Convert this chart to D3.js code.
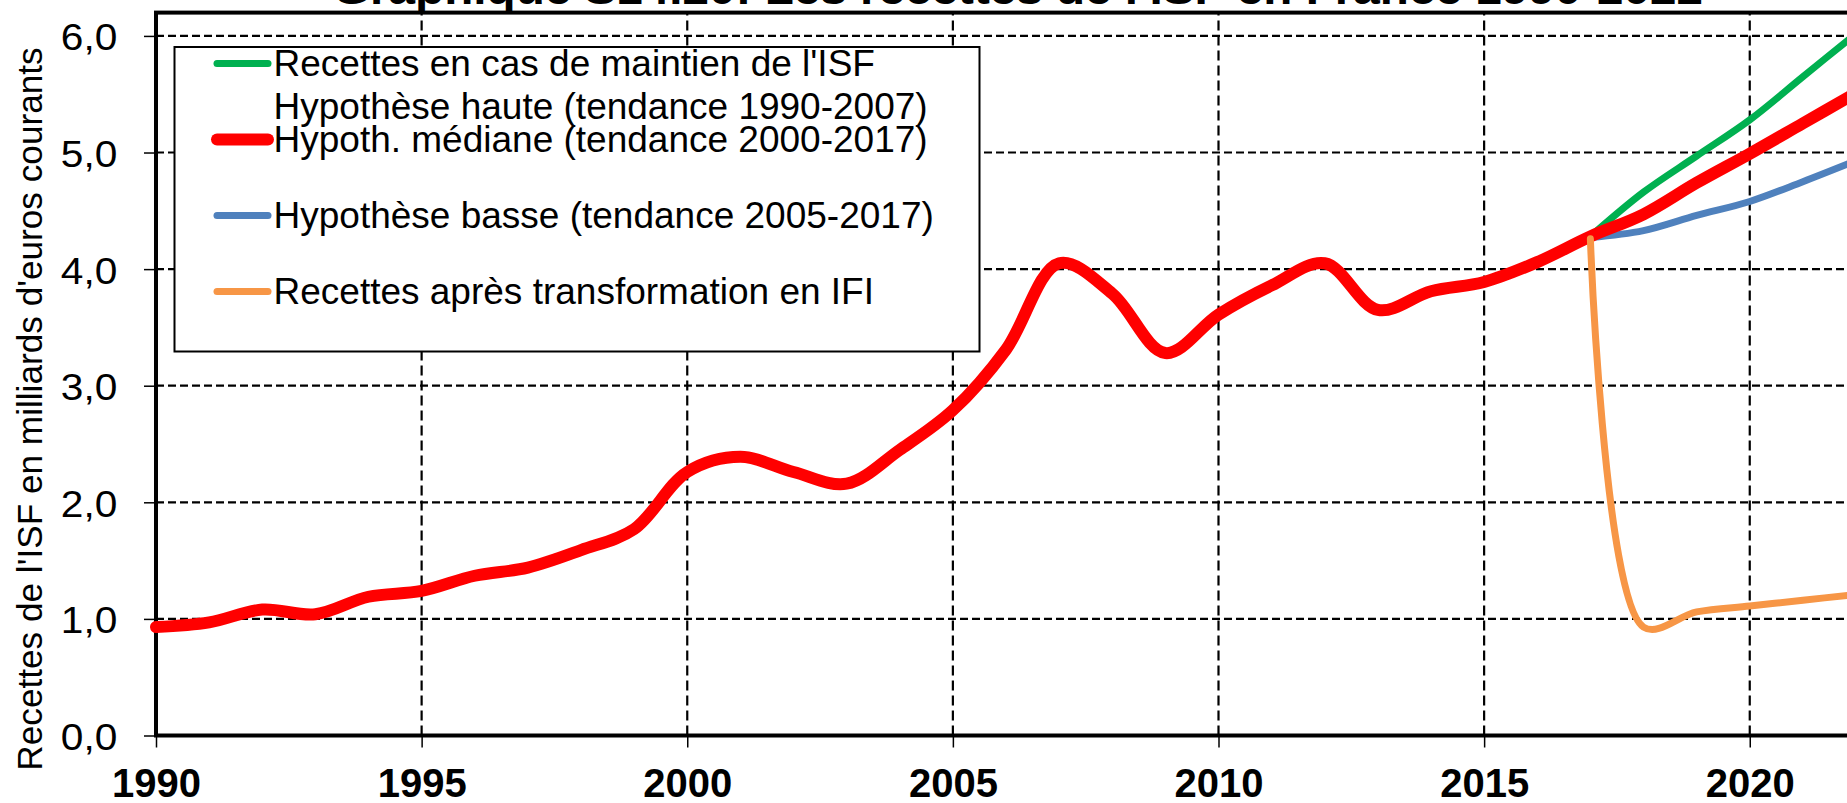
<!DOCTYPE html>
<html>
<head>
<meta charset="utf-8">
<script src="https://cdn.jsdelivr.net/npm/d3@7"></script>
<style>
  html, body { margin: 0; padding: 0; background: #fff; overflow: hidden; }
  svg { display: block; font-family: "Liberation Sans", Arial, sans-serif; }
</style>
</head>
<body>
<svg id="chart" width="1847" height="803"></svg>
<script>
// Data
var years = [1990, 1991, 1992, 1993, 1994, 1995, 1996, 1997, 1998, 1999,
             2000, 2001, 2002, 2003, 2004, 2005, 2006, 2007, 2008, 2009,
             2010, 2011, 2012, 2013, 2014, 2015, 2016, 2017, 2018, 2019,
             2020, 2021, 2022];
var medianValues = [0.93, 0.97, 1.08, 1.04, 1.19, 1.24, 1.37, 1.44, 1.59, 1.77,
                    2.26, 2.39, 2.26, 2.16, 2.45, 2.79, 3.31, 4.05, 3.79, 3.28,
                    3.61, 3.86, 4.05, 3.65, 3.81, 3.89, 4.06, 4.28, 4.47, 4.74,
                    4.99, 5.25, 5.51];
var projYears = [2017, 2018, 2019, 2020, 2021, 2022];
var highValues = [4.28, 4.66, 4.97, 5.28, 5.65, 6.02];
var lowValues  = [4.27, 4.33, 4.46, 4.58, 4.75, 4.93];
var ifiValues  = [4.26, 0.93, 1.06, 1.11, 1.16, 1.21];

var xTicks = [1990, 1995, 2000, 2005, 2010, 2015, 2020];
var yTicks = [0, 1, 2, 3, 4, 5, 6];

var legendItems = [
  {lines: ["Recettes en cas de maintien de l'ISF", "Hypothèse haute (tendance 1990-2007)"], color: "#00B050", width: 7},
  {lines: ["Hypoth. médiane (tendance 2000-2017)"], color: "#FF0000", width: 12},
  {lines: ["Hypothèse basse (tendance 2005-2017)"], color: "#4F81BD", width: 7},
  {lines: ["Recettes après transformation en IFI"], color: "#F79646", width: 7}
];

var title = "Graphique S14.20: Les recettes de l'ISF en France 1990-2022";
var yTitle = "Recettes de l'ISF en milliards d'euros courants";

var svg = d3.select("#chart");

// Scales
var x = d3.scaleLinear().domain([1990, 2022]).range([156, 1856]);
var y = d3.scaleLinear().domain([0, 6.2]).range([735.5, 12.6]);

var frFormat = d3.formatLocale({decimal: ",", thousands: " ", grouping: [3], currency: ["", " €"]}).format(".1f");

// Grid lines
svg.append("g")
  .selectAll("line")
  .data(yTicks)
  .enter().append("line")
    .attr("x1", x(1990)).attr("x2", x(2022))
    .attr("y1", function(d) { return y(d); })
    .attr("y2", function(d) { return y(d); })
    .attr("stroke", "#000")
    .attr("stroke-width", 2.2)
    .attr("stroke-dasharray", "8,4");

svg.append("g")
  .selectAll("line")
  .data(xTicks.slice(1))
  .enter().append("line")
    .attr("x1", function(d) { return x(d); })
    .attr("x2", function(d) { return x(d); })
    .attr("y1", y(0)).attr("y2", y(6.2))
    .attr("stroke", "#000")
    .attr("stroke-width", 2.2)
    .attr("stroke-dasharray", "10,5");

// Axes
var xAxis = svg.append("g")
  .attr("transform", "translate(0," + y(0) + ")")
  .call(d3.axisBottom(x).tickValues(xTicks).tickSize(12).tickPadding(21).tickFormat(d3.format("d")));
xAxis.select(".domain").remove();
xAxis.selectAll(".tick line").attr("stroke", "#000").attr("stroke-width", 1.5);
xAxis.selectAll(".tick text")
  .attr("fill", "#000")
  .style("font-family", "'Liberation Sans', Arial, sans-serif")
  .style("font-size", "40px")
  .style("font-weight", "bold");

var yAxis = svg.append("g")
  .attr("transform", "translate(" + x(1990) + ",0)")
  .call(d3.axisLeft(y).tickValues(yTicks).tickSize(12).tickFormat(frFormat));
yAxis.select(".domain").remove();
yAxis.selectAll(".tick line").attr("stroke", "#000").attr("stroke-width", 1.5);
yAxis.selectAll(".tick text")
  .attr("fill", "#000")
  .attr("x", -38.7 / 1.13)
  .attr("dy", "14px")
  .attr("transform", "scale(1.13,1)")
  .style("font-family", "'Liberation Sans', Arial, sans-serif")
  .style("font-size", "36px");

// Plot frame
svg.append("rect")
  .attr("x", x(1990)).attr("y", y(6.2))
  .attr("width", x(2022) - x(1990))
  .attr("height", y(0) - y(6.2))
  .attr("fill", "none")
  .attr("stroke", "#000")
  .attr("stroke-width", 4);

// Series (smoothed like the spreadsheet lines)
var line = d3.line()
  .x(function(d) { return x(d[0]); })
  .y(function(d) { return y(d[1]); })
  .curve(d3.curveCatmullRom.alpha(0.5));

function drawSeries(xs, vs, color, w) {
  svg.append("path")
    .datum(d3.zip(xs, vs))
    .attr("d", line)
    .attr("fill", "none")
    .attr("stroke", color)
    .attr("stroke-width", w)
    .attr("stroke-linecap", "round")
    .attr("stroke-linejoin", "round");
}

drawSeries(projYears, highValues, "#00B050", 7);
drawSeries(projYears, lowValues, "#4F81BD", 7);
drawSeries(years, medianValues, "#FF0000", 12);
drawSeries(projYears, ifiValues, "#F79646", 7);

// Legend
var legend = svg.append("g");
legend.append("rect")
  .attr("x", 174.5).attr("y", 47)
  .attr("width", 805).attr("height", 304.5)
  .attr("fill", "#fff")
  .attr("stroke", "#000")
  .attr("stroke-width", 2);

var entry = legend.selectAll(".entry")
  .data(legendItems)
  .enter().append("g")
    .attr("class", "entry")
    .attr("transform", function(d, i) { return "translate(0," + (76 + i * 76) + ")"; });

entry.append("line")
  .attr("x1", 217).attr("x2", 268)
  .attr("y1", -12.5).attr("y2", -12.5)
  .attr("stroke", function(d) { return d.color; })
  .attr("stroke-width", function(d) { return d.width; })
  .attr("stroke-linecap", "round");

entry.selectAll("text")
  .data(function(d) { return d.lines; })
  .enter().append("text")
    .attr("x", 273.5)
    .attr("y", function(d, i) { return i * 43.3; })
    .style("font-size", "37px")
    .attr("fill", "#000")
    .text(function(d) { return d; });

// Titles
svg.append("text")
  .attr("x", 1018).attr("y", 4)
  .attr("text-anchor", "middle")
  .attr("textLength", 1370)
  .attr("lengthAdjust", "spacingAndGlyphs")
  .style("font-size", "42px")
  .style("font-weight", "bold")
  .text(title);

svg.append("text")
  .attr("transform", "translate(41.7,409) rotate(-90)")
  .attr("text-anchor", "middle")
  .style("font-size", "35.2px")
  .text(yTitle);
</script>
</body>
</html>
